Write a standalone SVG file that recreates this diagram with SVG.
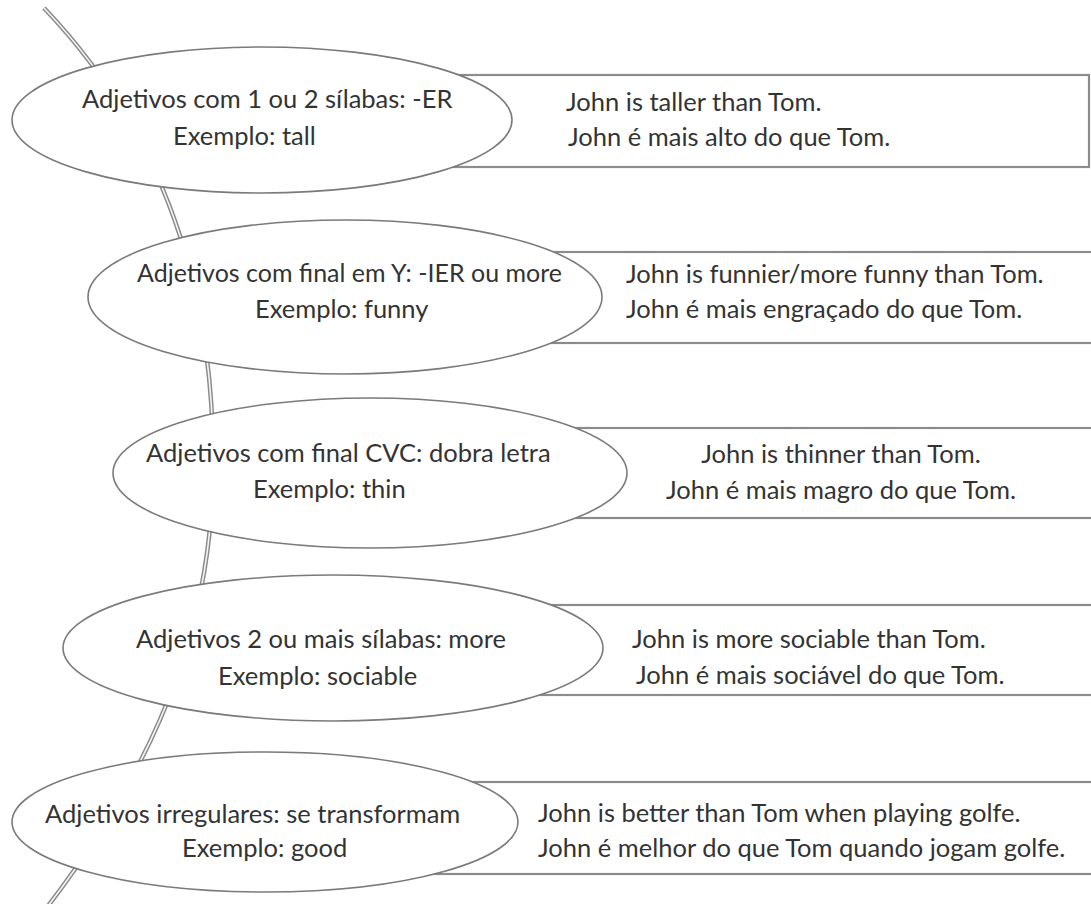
<svg xmlns="http://www.w3.org/2000/svg" width="1091" height="904" viewBox="0 0 1091 904">
<style>
.spine-out{fill:none;stroke:#8a8a8a;stroke-width:4.5}
.spine-in{fill:none;stroke:#f4f4f4;stroke-width:1.6}
.box{fill:#fff;stroke:#8c8c8c;stroke-width:2.2}
.ell{fill:#fff;stroke:#7a7a7a;stroke-width:1.6}
text{font-family:Lato,"Open Sans","Liberation Sans",sans-serif;font-size:25.5px;fill:#333}
.m{text-anchor:middle}
</style>
<rect width="1091" height="904" fill="#fff"/>
<g id="connectors">
<path class="spine-out" d="M44,8 C170,140 215,300 213,470 C212,600 175,740 48,906"/>
<path class="spine-in" d="M44,8 C170,140 215,300 213,470 C212,600 175,740 48,906"/>
</g>
<g id="row1">
<rect class="box" x="300" y="75" width="789" height="92"/>
<ellipse class="ell" cx="262" cy="120" rx="250" ry="73"/>
<text x="82" y="108">Adjetivos com 1 ou 2 sílabas: -ER</text>
<text x="173" y="145">Exemplo: tall</text>
<text x="566" y="111">John is taller than Tom.</text>
<text x="568" y="146">John é mais alto do que Tom.</text>
</g>
<g id="row2">
<rect class="box" x="345" y="252" width="760" height="91"/>
<ellipse class="ell" cx="345" cy="297" rx="257" ry="77"/>
<text x="137" y="282" textLength="425" lengthAdjust="spacingAndGlyphs">Adjetivos com final em Y: -IER ou more</text>
<text x="255" y="318">Exemplo: funny</text>
<text x="626" y="283">John is funnier/more funny than Tom.</text>
<text x="626" y="318">John é mais engraçado do que Tom.</text>
</g>
<g id="row3">
<rect class="box" x="370" y="428" width="735" height="90"/>
<ellipse class="ell" cx="370" cy="473" rx="257" ry="75"/>
<text x="146" y="462">Adjetivos com final CVC: dobra letra</text>
<text x="253" y="498">Exemplo: thin</text>
<text class="m" x="841" y="463">John is thinner than Tom.</text>
<text class="m" x="841" y="499">John é mais magro do que Tom.</text>
</g>
<g id="row4">
<rect class="box" x="333" y="605" width="772" height="90"/>
<ellipse class="ell" cx="333" cy="648" rx="270" ry="73"/>
<text x="136" y="648">Adjetivos 2 ou mais sílabas: more</text>
<text x="218" y="685">Exemplo: sociable</text>
<text x="632" y="648">John is more sociable than Tom.</text>
<text x="636" y="684">John é mais sociável do que Tom.</text>
</g>
<g id="row5">
<rect class="box" x="265" y="782" width="840" height="92"/>
<ellipse class="ell" cx="265" cy="822" rx="253" ry="70"/>
<text x="45" y="823">Adjetivos irregulares: se transformam</text>
<text x="182" y="857">Exemplo: good</text>
<text x="538" y="822">John is better than Tom when playing golfe.</text>
<text x="538" y="857">John é melhor do que Tom quando jogam golfe.</text>
</g>
</svg>
